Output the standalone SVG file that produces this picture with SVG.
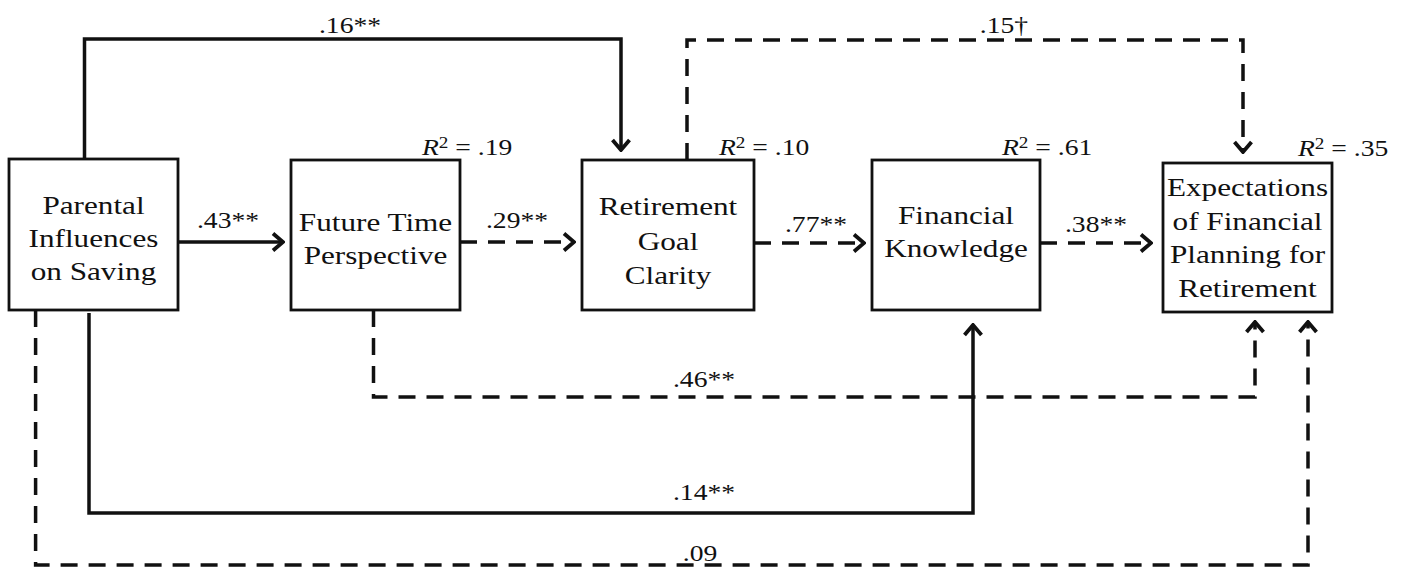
<svg xmlns="http://www.w3.org/2000/svg" width="1404" height="567" viewBox="0 0 1404 567">
<defs>
<style>
.box{fill:#fff;stroke:#111;stroke-width:2.8}
.bt{font-family:"Liberation Serif","Times New Roman",serif;font-size:26px;fill:#111;text-anchor:middle}
.lb{font-family:"Liberation Serif","Times New Roman",serif;font-size:23px;fill:#111;text-anchor:middle}
.r2{font-family:"Liberation Serif","Times New Roman",serif;font-size:23px;fill:#111}
.solid{fill:none;stroke:#111;stroke-width:3.5;marker-end:url(#ah)}
.dash{fill:none;stroke:#111;stroke-width:3.5;stroke-dasharray:17 11;marker-end:url(#ah)}
</style>
<marker id="ah" markerUnits="userSpaceOnUse" viewBox="-14 -11 16 22" refX="0" refY="0" markerWidth="16" markerHeight="22" orient="auto">
<path d="M-10,-8.5 L0,0 L-10,8.5" fill="none" stroke="#111" stroke-width="3.8" stroke-dasharray="none"/>
</marker>
</defs>
<rect width="1404" height="567" fill="#fff"/>

<g id="connectors">
<path class="solid" d="M84.5,159 V39 H621 V150"/>
<path class="dash" d="M687,160 V40 H1243 V152"/>
<path class="solid" d="M178,242 H283"/>
<path class="dash" d="M460,242 H574"/>
<path class="dash" d="M754,243 H864"/>
<path class="dash" d="M1040,243 H1151"/>
<path class="dash" d="M373.5,310 V397 H1255 V322"/>
<path class="solid" d="M89,313 V513 H973 V325"/>
<path class="dash" d="M35.6,310 V565 H1308 V322"/>
<g id="edge-labels">
<text class="lb" transform="translate(350 0) scale(1.2 1)" y="33">.16**</text>
<text class="lb" transform="translate(1004 0) scale(1.2 1)" y="33">.15†</text>
<text class="lb" transform="translate(228 0) scale(1.2 1)" y="228">.43**</text>
<text class="lb" transform="translate(517 0) scale(1.2 1)" y="228">.29**</text>
<text class="lb" transform="translate(816 0) scale(1.2 1)" y="232">.77**</text>
<text class="lb" transform="translate(1096 0) scale(1.2 1)" y="232">.38**</text>
<text class="lb" transform="translate(704 0) scale(1.2 1)" y="387">.46**</text>
<text class="lb" transform="translate(704 0) scale(1.2 1)" y="500">.14**</text>
<text class="lb" transform="translate(700 0) scale(1.2 1)" y="561">.09</text>
</g>
</g>

<g id="node-parental">
<rect class="box" x="9" y="159" width="169" height="151"/>
<text class="bt" transform="translate(93.5 0) scale(1.2 1)"><tspan x="0" y="214">Parental</tspan><tspan x="0" y="247">Influences</tspan><tspan x="0" y="280">on Saving</tspan></text>
</g>

<g id="node-future">
<rect class="box" x="291" y="160" width="169" height="150"/>
<text class="bt" transform="translate(375.5 0) scale(1.2 1)"><tspan x="0" y="231">Future Time</tspan><tspan x="0" y="264">Perspective</tspan></text>
<text class="r2" transform="translate(422 0) scale(1.2 1)" y="155"><tspan font-style="italic">R</tspan><tspan font-size="16" dy="-7">2</tspan><tspan dy="7"> = .19</tspan></text>
</g>

<g id="node-goal">
<rect class="box" x="582" y="160" width="172" height="150"/>
<text class="bt" transform="translate(668 0) scale(1.2 1)"><tspan x="0" y="215">Retirement</tspan><tspan x="0" y="250">Goal</tspan><tspan x="0" y="284">Clarity</tspan></text>
<text class="r2" transform="translate(719 0) scale(1.2 1)" y="155"><tspan font-style="italic">R</tspan><tspan font-size="16" dy="-7">2</tspan><tspan dy="7"> = .10</tspan></text>
</g>

<g id="node-knowledge">
<rect class="box" x="872" y="160" width="168" height="150"/>
<text class="bt" transform="translate(956 0) scale(1.2 1)"><tspan x="0" y="224">Financial</tspan><tspan x="0" y="257">Knowledge</tspan></text>
<text class="r2" transform="translate(1002 0) scale(1.2 1)" y="155"><tspan font-style="italic">R</tspan><tspan font-size="16" dy="-7">2</tspan><tspan dy="7"> = .61</tspan></text>
</g>

<g id="node-expectations">
<rect class="box" x="1163" y="163" width="169" height="149"/>
<text class="bt" transform="translate(1247.5 0) scale(1.2 1)"><tspan x="0" y="196">Expectations</tspan><tspan x="0" y="230">of Financial</tspan><tspan x="0" y="263">Planning for</tspan><tspan x="0" y="297">Retirement</tspan></text>
<text class="r2" transform="translate(1298 0) scale(1.2 1)" y="156"><tspan font-style="italic">R</tspan><tspan font-size="16" dy="-7">2</tspan><tspan dy="7"> = .35</tspan></text>
</g>
</svg>
